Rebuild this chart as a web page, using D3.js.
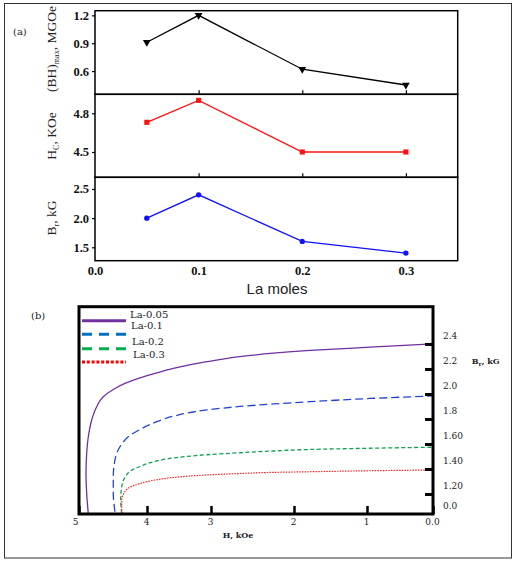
<!DOCTYPE html>
<html>
<head>
<meta charset="utf-8">
<script src="https://cdn.jsdelivr.net/npm/d3@7"></script>
<style>
  body { margin: 0; background: #fff; }
  svg { display: block; }
</style>
</head>
<body>
<div id="chart"></div>
<script>
// ---- panel (a) data ----
var laMoles = [0.05, 0.1, 0.2, 0.3];
var bhMax = [0.91, 1.20, 0.62, 0.45];
var hcVals = [4.73, 4.90, 4.50, 4.50];
var brVals = [2.00, 2.40, 1.60, 1.40];
var xTicksA = [0.0, 0.1, 0.2, 0.3];
var bhTicks = [0.6, 0.9, 1.2];
var hcTicks = [4.5, 4.8];
var brTicks = [1.5, 2.0, 2.5];

// ---- panel (b) data : demagnetization curves (H in kOe, B in kG) ----
var la005H = [4.863, 4.887, 4.897, 4.887, 4.863, 4.813, 4.740, 4.643, 4.496, 4.324, 4.103, 3.848, 3.589, 3.067, 2.651, 2.249, 1.781, 0.955, 0];
var la005B = [1.040, 1.206, 1.366, 1.526, 1.658, 1.792, 1.898, 1.978, 2.036, 2.084, 2.128, 2.168, 2.204, 2.258, 2.298, 2.326, 2.348, 2.374, 2.400];
var la01H = [4.471, 4.496, 4.496, 4.471, 4.397, 4.250, 4.103, 3.848, 3.589, 3.067, 2.651, 2.249, 1.781, 0.955, 0];
var la01B = [1.058, 1.206, 1.338, 1.472, 1.578, 1.668, 1.716, 1.778, 1.822, 1.872, 1.900, 1.920, 1.938, 1.964, 1.984];
var la02H = [4.372, 4.387, 4.372, 4.324, 4.221, 4.103, 3.848, 3.589, 3.067, 2.651, 2.249, 1.781, 0.955, 0];
var la02B = [1.046, 1.152, 1.258, 1.332, 1.392, 1.420, 1.464, 1.488, 1.514, 1.530, 1.544, 1.556, 1.566, 1.574];
var la03H = [4.372, 4.372, 4.338, 4.250, 4.103, 3.848, 3.589, 3.067, 2.651, 2.249, 1.781, 0.955, 0];
var la03B = [1.046, 1.152, 1.208, 1.254, 1.284, 1.314, 1.332, 1.352, 1.364, 1.373, 1.378, 1.386, 1.392];
var legendNames = ["La-0.05", "La-0.1", "La-0.2", "La-0.3"];
var hTicks = [5, 4, 3, 2, 1, 0];
var hTickLabels = ["5", "4", "3", "2", "1", "0.0"];
var bTicks = [1.04, 1.2, 1.4, 1.6, 1.8, 2.0, 2.2, 2.4];
var bTickLabels = ["0.0", "1.20", "1.40", "1.60", "1.8", "2.0", "2.2", "2.4"];

var SERIF = "'Liberation Serif', 'Times New Roman', serif";
var CAM = "'DejaVu Serif', serif";

var W = 517, H = 564;
var svg = d3.select("#chart").append("svg")
    .attr("width", W)
    .attr("height", H);

// outer frame
svg.append("rect")
    .attr("x", 4.5).attr("y", 3.5)
    .attr("width", 507).attr("height", 554.5)
    .attr("fill", "none")
    .attr("stroke", "#333")
    .attr("stroke-width", 1);

//===================== panel (a) =====================
var aLeft = 95, aRight = 457.7;
var x = d3.scaleLinear().domain([0, 0.35]).range([aLeft, aRight]);

var panels = [
    {vals: bhMax, ticks: bhTicks, dom: [0.35, 1.25], top: 10.7, bot: 94.3, color: "#000", sym: "tri"},
    {vals: hcVals, ticks: hcTicks, dom: [4.304, 4.947], top: 94.3, bot: 177.3, color: "#ff1010", sym: "sq"},
    {vals: brVals, ticks: brTicks, dom: [1.27, 2.70], top: 177.3, bot: 260.7, color: "#1010ff", sym: "circ"}
];

panels.forEach(function(p, i) {
    var y = d3.scaleLinear().domain(p.dom).range([p.bot, p.top]);
    var g = svg.append("g");

    // left ticks + labels
    var ax = g.append("g")
        .attr("transform", "translate(" + aLeft + ",0)")
        .call(d3.axisLeft(y).tickValues(p.ticks).tickFormat(d3.format(".1f")).tickSize(3).tickPadding(3));
    ax.select(".domain").remove();
    ax.selectAll("line").attr("stroke", "#000").attr("stroke-width", 1.2);
    ax.selectAll("text")
        .style("font-family", SERIF)
        .style("font-size", "12.5px")
        .style("font-weight", "bold")
        .attr("fill", "#111");

    // inner ticks on the bottom edge of the upper panels
    if (i < 2) {
        var bx = g.append("g")
            .attr("transform", "translate(0," + p.bot + ")")
            .call(d3.axisBottom(x).tickValues([0.1, 0.2, 0.3]).tickSize(-4).tickFormat(""));
        bx.select(".domain").remove();
        bx.selectAll("line").attr("stroke", "#000").attr("stroke-width", 1.2);
    }

    // frame
    g.append("rect")
        .attr("x", aLeft).attr("y", p.top)
        .attr("width", aRight - aLeft).attr("height", p.bot - p.top)
        .attr("fill", "none")
        .attr("stroke", "#000")
        .attr("stroke-width", 1.5);

    var pts = laMoles.map(function(d, j) { return [d, p.vals[j]]; });
    g.append("path")
        .datum(pts)
        .attr("fill", "none")
        .attr("stroke", p.color)
        .attr("stroke-width", 1.3)
        .attr("d", d3.line().x(function(d) { return x(d[0]); }).y(function(d) { return y(d[1]); }));

    var symType = p.sym === "tri" ? d3.symbolTriangle : (p.sym === "sq" ? d3.symbolSquare : d3.symbolCircle);
    var symSize = p.sym === "circ" ? 22 : 26;
    g.selectAll(".pt")
        .data(pts)
        .enter()
        .append("path")
        .attr("transform", function(d) {
            return "translate(" + x(d[0]) + "," + y(d[1]) + ")" + (p.sym === "tri" ? " rotate(180)" : "");
        })
        .attr("d", d3.symbol().type(symType).size(symSize))
        .attr("fill", p.color);
});

// x axis labels of (a)
var xa = svg.append("g")
    .attr("transform", "translate(0,260.7)")
    .call(d3.axisBottom(x).tickValues(xTicksA).tickFormat(d3.format(".1f")).tickSize(0).tickPadding(5));
xa.select(".domain").remove();
xa.selectAll("text")
    .style("font-family", SERIF)
    .style("font-size", "12.5px")
    .style("font-weight", "bold")
    .attr("fill", "#111");

svg.append("text")
    .attr("x", 277).attr("y", 294)
    .attr("text-anchor", "middle")
    .style("font-family", "'Liberation Sans', Arial, sans-serif")
    .style("font-size", "15px")
    .attr("fill", "#222")
    .text("La moles");

svg.append("text")
    .attr("x", 13).attr("y", 35)
    .style("font-family", CAM)
    .style("font-size", "10px")
    .attr("fill", "#222")
    .text("(a)");

// rotated y titles with subscripts
function yTitle(cy, parts) {
    var t = svg.append("text")
        .attr("transform", "translate(55.5," + cy + ") rotate(-90)")
        .attr("text-anchor", "middle")
        .style("font-family", SERIF)
        .style("font-size", "13.5px")
        .attr("fill", "#222");
    parts.forEach(function(pt) {
        var s = t.append("tspan").text(pt[0]);
        if (pt[1] === "sub") s.attr("dy", 3).style("font-size", "8px");
        if (pt[1] === "back") s.attr("dy", -3);
    });
}
yTitle(49, [["(BH)"], ["max", "sub"], [", MGOe", "back"]]);
yTitle(136, [["H"], ["C", "sub"], [", KOe", "back"]]);
yTitle(218, [["B"], ["r", "sub"], [",  kG", "back"]]);

//===================== panel (b) =====================
var bL = 79, bR = 433, bT = 306.7, bB = 514;
// the original axis is unevenly spaced, so the scale is piecewise
var hx = d3.scaleLinear().domain([5, 4, 3, 2, 1, 0]).range([bL, 147, 211, 294, 367, bR]);
var by = d3.scaleLinear().domain([1.04, 2.698]).range([bB, bT]);

var curves = [
    {h: la005H, b: la005B, color: "#7030a0", dash: null, w: 1.3},
    {h: la01H, b: la01B, color: "#2244cc", dash: "8,4", w: 1.3},
    {h: la02H, b: la02B, color: "#10a050", dash: "4,2.5", w: 1.3},
    {h: la03H, b: la03B, color: "#ff2020", dash: "1.5,1.2", w: 1.2}
];

svg.append("clipPath").attr("id", "bclip")
    .append("rect").attr("x", bL).attr("y", bT).attr("width", bR - bL).attr("height", bB - bT);

var curveG = svg.append("g").attr("clip-path", "url(#bclip)");
curves.forEach(function(c) {
    var pts = c.h.map(function(d, j) { return [d, c.b[j]]; });
    curveG.append("path")
        .datum(pts)
        .attr("fill", "none")
        .attr("stroke", c.color)
        .attr("stroke-width", c.w)
        .attr("stroke-dasharray", c.dash)
        .attr("d", d3.line().curve(d3.curveMonotoneY)
            .x(function(d) { return hx(d[0]); })
            .y(function(d) { return by(d[1]); }));
});

// bottom axis (inner ticks)
var hax = svg.append("g")
    .attr("transform", "translate(0," + bB + ")")
    .call(d3.axisBottom(hx).tickValues(hTicks).tickSize(-8).tickPadding(5)
        .tickFormat(function(d, i) { return hTickLabels[i]; }));
hax.select(".domain").remove();
hax.selectAll("line").attr("stroke", "#000").attr("stroke-width", 2.5);
hax.selectAll("text")
    .style("font-family", CAM)
    .style("font-size", "9px")
    .attr("fill", "#222")
    .attr("x", function(d) { return d === 5 ? -4 : -1; });

// right axis (inner ticks, labels sit above their ticks)
var bax = svg.append("g")
    .attr("transform", "translate(" + bR + ",0)")
    .call(d3.axisRight(by).tickValues(bTicks).tickSize(-8).tickPadding(10)
        .tickFormat(function(d, i) { return bTickLabels[i]; }));
bax.select(".domain").remove();
bax.selectAll("line")
    .attr("stroke", "#000")
    .attr("stroke-width", 3)
    .attr("opacity", function(d, i) { return i === 0 ? 0 : 1; });
bax.selectAll("text")
    .style("font-family", CAM)
    .style("font-size", "9px")
    .attr("fill", "#222")
    .attr("y", -8);

// frame of (b)
svg.append("rect")
    .attr("x", bL).attr("y", bT)
    .attr("width", bR - bL).attr("height", bB - bT)
    .attr("fill", "none")
    .attr("stroke", "#000")
    .attr("stroke-width", 3);

// legend
var legColors = ["#7030a0", "#0070c0", "#00b050", "#ff0000"];
var legDash = [null, "10,7", "10,7", "3,1.8"];
var legLineY = [320.7, 334.3, 348.7, 362];
var legTextY = [317.5, 329, 344.5, 358];
var legTextX = [130, 131, 132, 133];
legendNames.forEach(function(n, i) {
    svg.append("line")
        .attr("x1", 82).attr("x2", 126)
        .attr("y1", legLineY[i]).attr("y2", legLineY[i])
        .attr("stroke", legColors[i])
        .attr("stroke-width", 3)
        .attr("stroke-dasharray", legDash[i]);
    svg.append("text")
        .attr("x", legTextX[i]).attr("y", legTextY[i])
        .style("font-family", CAM)
        .style("font-size", "10px")
        .attr("fill", "#222")
        .text(n);
});

svg.append("text")
    .attr("x", 31).attr("y", 318.5)
    .style("font-family", CAM)
    .style("font-size", "10px")
    .attr("fill", "#222")
    .text("(b)");

svg.append("text")
    .attr("x", 238).attr("y", 537.5)
    .attr("text-anchor", "middle")
    .style("font-family", CAM)
    .style("font-size", "8px")
    .style("font-weight", "bold")
    .attr("fill", "#222")
    .text("H, kOe");

var brT = svg.append("text")
    .attr("x", 471.7).attr("y", 363.5)
    .style("font-family", CAM)
    .style("font-size", "8px")
    .style("font-weight", "bold")
    .attr("fill", "#222");
brT.append("tspan").text("B");
brT.append("tspan").attr("dy", 2).style("font-size", "6px").text("r");
brT.append("tspan").attr("dy", -2).text(", kG");
</script>
</body>
</html>
